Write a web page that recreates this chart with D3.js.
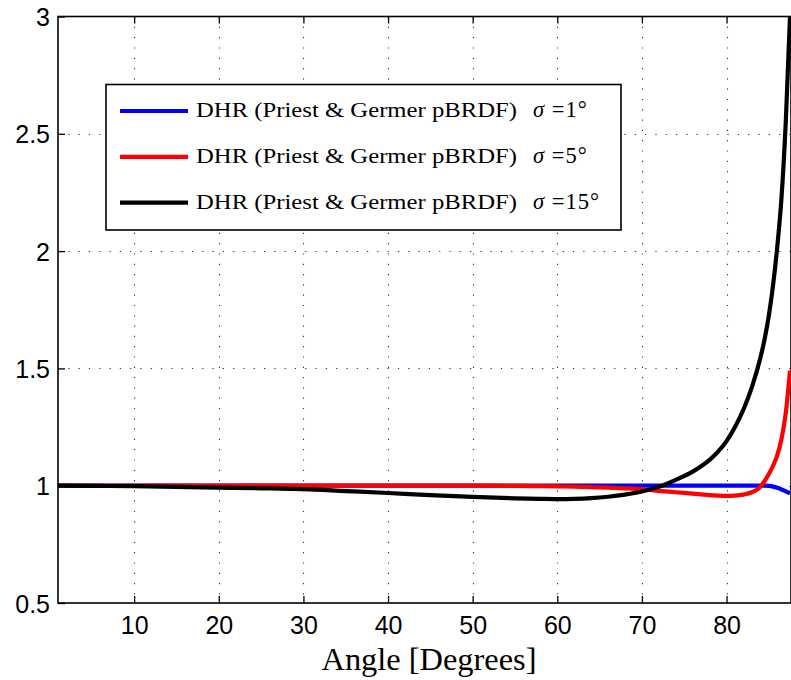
<!DOCTYPE html>
<html>
<head>
<meta charset="utf-8">
<script src="https://cdn.jsdelivr.net/npm/d3@7"></script>
<style>
  html, body { margin: 0; padding: 0; background: #fff; }
  svg { display: block; }
</style>
</head>
<body>
<svg id="chart" width="791" height="680"></svg>
<script>
// Incidence angle samples (degrees)
const angles = [1, 5, 10, 15, 20, 25, 30, 35, 40, 45, 50, 55, 58, 60, 62, 64, 66, 68, 70, 72, 74, 76, 77, 78, 79, 80, 81, 82, 83, 84, 84.5, 85, 85.5, 86, 86.5, 87, 87.5];

// Directional hemispherical reflectance for each roughness
const dhrSigma1 = [1.0, 1.0, 1.0, 1.0, 1.0, 1.0, 1.0, 1.0, 1.0, 1.0, 1.0, 1.0, 1.0, 1.0, 1.0, 1.0, 1.0, 1.0, 1.0, 1.0, 1.0, 1.0, 1.0, 1.0, 1.0, 1.0, 1.0, 1.0, 1.0, 1.0, 1.0, 0.999, 0.996, 0.991, 0.984, 0.976, 0.968];
const dhrSigma5 = [1.0, 1.0, 1.0, 1.0, 1.0, 1.0, 1.0, 1.0, 1.0, 1.0, 1.0, 0.999, 0.998, 0.997, 0.996, 0.994, 0.992, 0.989, 0.985, 0.978, 0.972, 0.966, 0.963, 0.96, 0.958, 0.957, 0.958, 0.962, 0.972, 0.995, 1.02, 1.05, 1.085, 1.13, 1.2, 1.31, 1.49];
const dhrSigma15 = [1.0, 0.999, 0.998, 0.995, 0.992, 0.989, 0.985, 0.977, 0.969, 0.96, 0.952, 0.946, 0.944, 0.943, 0.944, 0.947, 0.953, 0.962, 0.975, 0.995, 1.025, 1.06, 1.083, 1.11, 1.145, 1.19, 1.25, 1.325, 1.42, 1.545, 1.625, 1.725, 1.855, 2.02, 2.23, 2.55, 3.0];

const seriesNames = ["\u03c3 =1\u00b0", "\u03c3 =5\u00b0", "\u03c3 =15\u00b0"];
const seriesColors = ["#0000ff", "#ff0000", "#000000"];
const legendPrefix = "DHR (Priest & Germer pBRDF)";

const xTicks = [10, 20, 30, 40, 50, 60, 70, 80];
const yTicks = [0.5, 1, 1.5, 2, 2.5, 3];
const yTickLabels = ["0.5", "1", "1.5", "2", "2.5", "3"];
const xTitle = "Angle [Degrees]";

const svg = d3.select("#chart");
const plotLeft = 58, plotRight = 790, plotTop = 16.5, plotBottom = 603;

const x = d3.scaleLinear().domain([1, 87.5]).range([plotLeft, plotRight]);
const y = d3.scaleLinear().domain([0.5, 3]).range([plotBottom, plotTop]);

// Dotted grid
const grid = svg.append("g").attr("stroke", "#333").attr("stroke-width", 1.1)
  .attr("stroke-dasharray", "1.2,9.1");
grid.selectAll("line.v").data(xTicks).join("line").attr("class", "v")
  .attr("x1", d => Math.round(x(d)) + 0.5).attr("x2", d => Math.round(x(d)) + 0.5)
  .attr("y1", plotTop).attr("y2", plotBottom);
grid.selectAll("line.h").data(yTicks.filter(d => d > 0.5 && d < 3)).join("line").attr("class", "h")
  .attr("y1", d => Math.round(y(d)) + 0.5).attr("y2", d => Math.round(y(d)) + 0.5)
  .attr("x1", plotLeft).attr("x2", plotRight);

// Frame
svg.append("rect").attr("x", plotLeft).attr("y", plotTop)
  .attr("width", plotRight + 1 - plotLeft).attr("height", plotBottom - plotTop)
  .attr("fill", "none").attr("stroke", "#000").attr("stroke-width", 1.6);

// Bottom axis: inward ticks with labels
const xAxis = d3.axisBottom(x).tickValues(xTicks).tickSize(-7).tickPadding(13)
  .tickFormat(d3.format("d"));
const gx = svg.append("g").attr("transform", `translate(0,${plotBottom})`).call(xAxis);
gx.select(".domain").remove();
gx.selectAll(".tick line").attr("stroke", "#000").attr("stroke-width", 1.3);
gx.selectAll(".tick text").attr("font-family", "'Liberation Sans', Arial, sans-serif")
  .attr("font-size", 25).attr("fill", "#000");

// Top axis: mirrored ticks only
const gxt = svg.append("g").attr("transform", `translate(0,${plotTop})`)
  .call(d3.axisTop(x).tickValues(xTicks).tickSize(-7).tickFormat(""));
gxt.select(".domain").remove();
gxt.selectAll(".tick line").attr("stroke", "#000").attr("stroke-width", 1.3);

// Left axis
const yAxis = d3.axisLeft(y).tickValues(yTicks).tickSize(-7).tickPadding(8)
  .tickFormat((d, i) => yTickLabels[i]);
const gy = svg.append("g").attr("transform", `translate(${plotLeft},0)`).call(yAxis);
gy.select(".domain").remove();
gy.selectAll(".tick line").attr("stroke", "#000").attr("stroke-width", 1.3);
gy.selectAll(".tick text").attr("font-family", "'Liberation Sans', Arial, sans-serif")
  .attr("font-size", 25).attr("fill", "#000").attr("dy", "0.36em");

// X title
svg.append("text").attr("x", 429).attr("y", 670).attr("text-anchor", "middle")
  .attr("font-family", "'Liberation Serif', 'Times New Roman', serif")
  .attr("font-size", 32).attr("fill", "#000")
  .attr("textLength", 215).attr("lengthAdjust", "spacingAndGlyphs")
  .text(xTitle);

// Curves
svg.append("clipPath").attr("id", "plotclip").append("rect")
  .attr("x", plotLeft).attr("y", plotTop).attr("width", plotRight - plotLeft + 1).attr("height", plotBottom - plotTop);

const seriesData = [dhrSigma1, dhrSigma5, dhrSigma15];
const line = d3.line().x(d => x(d[0])).y(d => y(d[1])).curve(d3.curveMonotoneX);
svg.append("g").attr("clip-path", "url(#plotclip)")
  .selectAll("path").data(seriesData).join("path")
  .attr("d", vals => line(angles.map((a, i) => [a, vals[i]])))
  .attr("fill", "none")
  .attr("stroke", (d, i) => seriesColors[i])
  .attr("stroke-width", 4.2)
  .attr("stroke-linejoin", "round");

// Legend
const lg = svg.append("g");
lg.append("rect").attr("x", 106).attr("y", 84.5).attr("width", 515).attr("height", 145.5)
  .attr("fill", "#fff").attr("stroke", "#000").attr("stroke-width", 1.6);
const rows = lg.selectAll("g.row").data(seriesNames).join("g").attr("class", "row")
  .attr("transform", (d, i) => `translate(0,${111 + i * 45.8})`);
rows.append("line").attr("x1", 120).attr("x2", 188).attr("y1", 0).attr("y2", 0)
  .attr("stroke", (d, i) => seriesColors[i]).attr("stroke-width", 4.2);
rows.append("text").attr("x", 196).attr("y", 6)
  .attr("font-family", "'Liberation Serif', 'Times New Roman', serif")
  .attr("font-size", 21).attr("fill", "#000")
  .attr("textLength", 321).attr("lengthAdjust", "spacingAndGlyphs")
  .text(legendPrefix);
const sig = rows.append("text").attr("x", 533).attr("y", 6)
  .attr("font-family", "'Liberation Serif', 'Times New Roman', serif")
  .attr("font-size", 22.5).attr("letter-spacing", 1).attr("fill", "#000");
sig.append("tspan").attr("font-style", "italic").text("\u03c3");
sig.append("tspan").text(d => d.slice(1));
</script>
</body>
</html>
